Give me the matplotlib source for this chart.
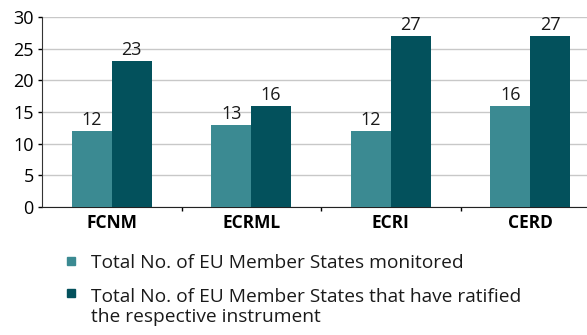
import numpy as np
import matplotlib
matplotlib.use('Agg')
from matplotlib import pyplot as plt
from matplotlib.patches import Rectangle

plt.rcParams['font.family'] = ['Open Sans', 'DejaVu Sans']

instruments = ['FCNM', 'ECRML', 'ECRI', 'CERD']
monitored = [12, 13, 12, 16]
ratified = [23, 16, 27, 27]
labels = ['Total No. of EU Member States monitored',
          'Total No. of EU Member States that have ratified\nthe respective instrument']

c_light = '#3b8a92'
c_dark = '#03515c'

W, H = 587, 335
fig = plt.figure(figsize=(W/100, H/100), dpi=100)
ax = fig.add_axes([42/W, 128/H, 558/W, 190/H])

x = np.arange(len(instruments))
w = 0.285
b1 = ax.bar(x - w/2, monitored, w, color=c_light, zorder=3)
b2 = ax.bar(x + w/2, ratified, w, color=c_dark, zorder=3)

for bars, vals in [(b1, monitored), (b2, ratified)]:
    for r, v in zip(bars, vals):
        ax.text(r.get_x() + r.get_width()/2, v + 0.3, str(v), ha='center', va='bottom',
                fontsize=13, color='#1a1a1a')

ax.set_xlim(-0.5, 3.5)
ax.set_ylim(0, 30)
ax.set_yticks(range(0, 31, 5))
ax.yaxis.grid(True, color='#c8c8c8', lw=1, zorder=0)
ax.set_xticks(x)
ax.set_xticklabels(instruments, fontsize=12.5, fontweight='bold')
ax.set_xticks([0.5, 1.5, 2.5], minor=True)
ax.tick_params(axis='x', which='major', length=0, pad=5)
ax.tick_params(axis='x', which='minor', length=3, width=1, direction='out')
ax.tick_params(axis='y', length=3, width=1, labelsize=13, pad=3)

for s in ['top', 'right']:
    ax.spines[s].set_visible(False)
ax.spines['left'].set_color('#333333')
ax.spines['bottom'].set_color('#222222')

# legend drawn by hand so the square sits on the first line of a wrapped label
for (ytop, ttop), col, lab in zip([(257, 254), (289, 288)], [c_light, c_dark], labels):
    fig.patches.append(Rectangle((67/W, 1 - (ytop + 8)/H), 8/W, 8/H, color=col,
                                 transform=fig.transFigure, figure=fig))
    fig.text(91/W, 1 - ttop/H, lab, fontsize=13.8, va='top', ha='left',
             color='#1a1a1a', linespacing=1.17)

fig.savefig('out.png', dpi=100)
